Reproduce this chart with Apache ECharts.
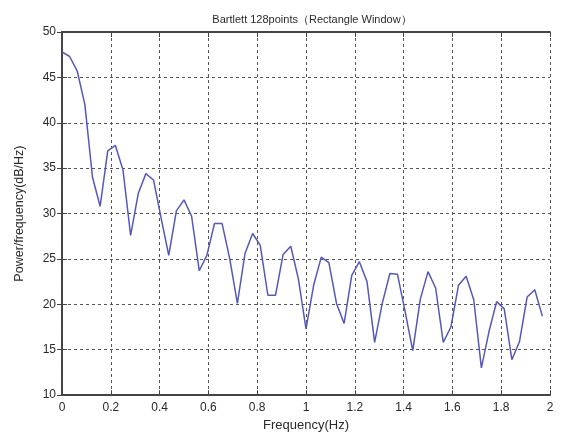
<!DOCTYPE html>
<html>
<head>
<meta charset="utf-8">
<script src="https://cdn.jsdelivr.net/npm/echarts@6/dist/echarts.min.js"></script>
<style>
html,body{margin:0;padding:0;background:#fff;}
#c{width:561px;height:437px;}
</style>
</head>
<body>
<div id="c"></div>
<script>
const titleText = 'Bartlett 128points（Rectangle Window）';
const xLabel = 'Frequency(Hz)';
const yLabel = 'Power/frequency(dB/Hz)';
const fs = 4;
const nfft = 128;
const psd = [47.8, 47.3, 45.7, 42.0, 34.0, 30.8, 36.9, 37.5, 34.8, 27.6,
  32.2, 34.4, 33.7, 29.5, 25.4, 30.3, 31.5, 29.7, 23.7, 25.4,
  28.9, 28.9, 25.0, 20.1, 25.6, 27.8, 26.5, 21.0, 21.0, 25.5,
  26.4, 22.8, 17.3, 22.1, 25.2, 24.6, 20.1, 17.9, 23.2, 24.7,
  22.5, 15.8, 20.1, 23.4, 23.3, 19.2, 14.9, 20.6, 23.6, 21.8,
  15.8, 17.5, 22.1, 23.1, 20.5, 13.0, 17.0, 20.3, 19.5, 13.9,
  15.9, 20.8, 21.6, 18.7];
const freq = psd.map((_, i) => i * fs / nfft);
const data = freq.map((f, i) => [f, psd[i]]);

const txt = {color: '#2a2a2a', fontFamily: 'Liberation Sans, Arial, sans-serif', fontSize: 12};
const chart = echarts.init(document.getElementById('c'), null, {renderer: 'canvas'});
chart.setOption({
  animation: false,
  backgroundColor: '#fff',
  title: {
    text: titleText, left: 307, top: 9, textAlign: 'center',
    textStyle: Object.assign({}, txt, {fontSize: 11, fontWeight: 'normal'})
  },
  grid: {left: 62, top: 32, right: 11, bottom: 40},
  xAxis: [{
    type: 'value', min: 0, max: 2, interval: 0.2,
    name: xLabel, nameLocation: 'middle', nameGap: 22,
    nameTextStyle: Object.assign({}, txt, {fontSize: 13}),
    axisLine: {show: true, lineStyle: {color: '#444', width: 1.8}},
    axisTick: {show: true, inside: true, length: 5, lineStyle: {color: '#444'}},
    axisLabel: Object.assign({margin: 7}, txt),
    splitLine: {show: true, lineStyle: {color: '#555', type: [3, 3], width: 1}}
  }, {
    type: 'value', min: 0, max: 2, interval: 0.2, position: 'top',
    axisLine: {show: true, lineStyle: {color: '#444', width: 1.8}},
    axisTick: {show: true, inside: true, length: 5, lineStyle: {color: '#444'}},
    axisLabel: {show: false}, splitLine: {show: false}
  }],
  yAxis: [{
    type: 'value', min: 10, max: 50, interval: 5,
    name: yLabel, nameLocation: 'middle', nameGap: 36,
    nameTextStyle: Object.assign({}, txt, {fontSize: 12.5}),
    axisLine: {show: true, lineStyle: {color: '#444', width: 1.8}},
    axisTick: {show: true, inside: true, length: 5, lineStyle: {color: '#444'}},
    axisLabel: Object.assign({margin: 6}, txt),
    splitLine: {show: true, lineStyle: {color: '#555', type: [3, 3], width: 1}}
  }, {
    type: 'value', min: 10, max: 50, interval: 5, position: 'right',
    axisLine: {show: true, lineStyle: {color: '#444', width: 1.8}},
    axisTick: {show: true, inside: true, length: 5, lineStyle: {color: '#444'}},
    axisLabel: {show: false}, splitLine: {show: false}
  }],
  series: [{
    type: 'line', data: data, showSymbol: false, symbol: 'none',
    lineStyle: {color: '#5558bb', width: 1.5},
    xAxisIndex: 0, yAxisIndex: 0
  }]
});
</script>
</body>
</html>
